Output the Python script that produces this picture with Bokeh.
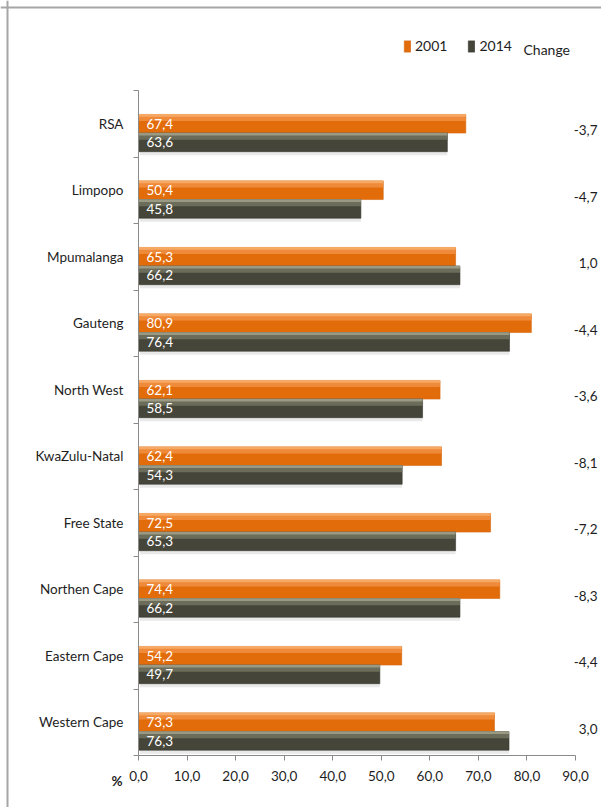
from bokeh.plotting import figure
from bokeh.models import (ColumnDataSource, FixedTicker, Range1d, Legend, LegendItem, Label, Span)
from bokeh.core.properties import value
from bokeh.embed import file_html
from bokeh.resources import INLINE

regions = ["RSA", "Limpopo", "Mpumalanga", "Gauteng", "North West", "KwaZulu-Natal",
           "Free State", "Northen Cape", "Eastern Cape", "Western Cape"]
v2001 = [67.4, 50.4, 65.3, 80.9, 62.1, 62.4, 72.5, 74.4, 54.2, 73.3]
v2014 = [63.6, 45.8, 66.2, 76.4, 58.5, 54.3, 65.3, 66.2, 49.7, 76.3]
change = [-3.7, -4.7, 1.0, -4.4, -3.6, -8.1, -7.2, -8.3, -4.4, 3.0]
x_ticks = [0, 10, 20, 30, 40, 50, 60, 70, 80, 90]

FONT = "Lato"
FS = "13.5px"
TXT = "#1e1e1e"

# layout constants (page pixels); canvas sits at page offset (0, 0)
OX, OY = 0, 0
W, H = 601, 807
X0PX, XPU = 138, 4.856   # page pixel of x=0, pixels per unit
Y0PX, YPU = 755, 66.5    # page pixel of y=0, pixels per unit

def dx(px):
    return (px - X0PX) / XPU

def dy(py):
    return (Y0PX - py) / YPU

x_start = dx(OX)
x_end = dx(OX + W)
y_end = dy(OY)
y_start = dy(OY + H)

def fmt(v):
    return f"{v:.1f}".replace(".", ",")

n = len(regions)
pos = [n - 1 - i for i in range(n)]
src = ColumnDataSource(dict(
    name=regions,
    pos=pos,
    v01=v2001,
    v14=v2014,
    ch=[fmt(c) for c in change],
    l01=[fmt(v) for v in v2001],
    l14=[fmt(v) for v in v2014],
    y01=[q + 0.50 for q in pos],
    y01a=[q + 0.59 for q in pos],
    y01b=[q + 0.625 for q in pos],
    y14=[q + 0.22 for q in pos],
    y14a=[q + 0.31 for q in pos],
    y14b=[q + 0.345 for q in pos],
    ysh=[q + 0.055 for q in pos],
    ych=[q + 0.40 for q in pos],
    x0=[0] * n,
))

p = figure(width=W, height=H, output_backend="svg", toolbar_location=None,
           x_range=Range1d(x_start, x_end), y_range=Range1d(y_start, y_end),
           min_border_left=0, min_border_right=0, min_border_top=0, min_border_bottom=0)
p.outline_line_color = None
p.grid.visible = False
p.background_fill_color = "white"
p.border_fill_color = "white"

# chart-area border (left and top edges visible in the crop)
p.add_layout(Span(location=dx(7), dimension="height", line_color="#a6a6a6", line_width=2))
p.add_layout(Span(location=dy(7), dimension="width", line_color="#a6a6a6", line_width=2))

# shadows
p.hbar(y="ysh", left=0.3, right="v14", height=0.06, source=src,
       fill_color="#9a9a9a", fill_alpha=0.22, line_color=None)
# 2001 bars
r01 = p.hbar(y="y01", left="x0", right="v01", height=0.28, source=src,
             fill_color="#E36C0A", line_color="#D0640F", line_width=0.6)
p.hbar(y="y01a", left="x0", right="v01", height=0.10, source=src,
       fill_color="#EF8A3A", line_color=None)
p.hbar(y="y01b", left="x0", right="v01", height=0.04, source=src,
       fill_color="#F6A865", line_color=None)
# 2014 bars
r14 = p.hbar(y="y14", left="x0", right="v14", height=0.28, source=src,
             fill_color="#45453A", line_color="#38382F", line_width=0.6)
p.hbar(y="y14a", left="x0", right="v14", height=0.10, source=src,
       fill_color="#6C6C5A", line_color=None)
p.hbar(y="y14b", left="x0", right="v14", height=0.04, source=src,
       fill_color="#9A9A84", line_color=None)

# value labels inside bars
p.text(x=dx(146), y="y01", text="l01", source=src, text_color="white",
       text_font=value(FONT), text_font_size=FS, text_baseline="middle", text_align="left")
p.text(x=dx(146), y="y14", text="l14", source=src, text_color="white",
       text_font=value(FONT), text_font_size=FS, text_baseline="middle", text_align="left")

# change column
p.text(x=dx(597), y="ych", text="ch", source=src, text_color=TXT,
       text_font=value(FONT), text_font_size=FS, text_baseline="middle", text_align="right")

# axes
xa = p.xaxis[0]
xa.fixed_location = 0
xa.bounds = (0, 90)
xa.ticker = FixedTicker(ticks=x_ticks, minor_ticks=[])
xa.major_label_overrides = {t: fmt(t) for t in x_ticks}
xa.axis_line_color = "#8a8a8a"
xa.major_tick_line_color = "#8a8a8a"
xa.major_tick_out = 5
xa.major_tick_in = 0
xa.minor_tick_line_color = None
xa.major_label_standoff = 10
xa.major_label_text_font = FONT
xa.major_label_text_font_size = FS
xa.major_label_text_color = TXT

ya = p.yaxis[0]
ya.fixed_location = 0
ya.bounds = (0, 10)
ya.ticker = FixedTicker(ticks=[q + 0.5 for q in pos], minor_ticks=list(range(0, n + 1)))
ya.major_label_overrides = {q + 0.5: nm for q, nm in zip(pos, regions)}
ya.axis_line_color = "#8a8a8a"
ya.major_tick_line_color = None
ya.major_tick_out = 0
ya.major_tick_in = 0
ya.minor_tick_line_color = "#8a8a8a"
ya.minor_tick_out = 5
ya.minor_tick_in = 0
ya.major_label_standoff = 10
ya.major_label_text_font = FONT
ya.major_label_text_font_size = FS
ya.major_label_text_color = TXT

# % label
p.add_layout(Label(x=dx(111), y=dy(780), text="%", text_font=FONT, text_font_size=FS,
                   text_font_style="bold", text_color=TXT, text_baseline="middle",
                   text_align="left"))

# legend
legend = Legend(items=[LegendItem(label="2001", renderers=[r01]),
                       LegendItem(label="2014", renderers=[r14])],
                orientation="horizontal", location=(403 - OX, OY + H - 54),
                glyph_width=8, glyph_height=14, label_height=14, label_standoff=4,
                spacing=20, padding=0, margin=0,
                border_line_alpha=0, background_fill_alpha=0,
                label_text_font=FONT, label_text_font_size="14px", label_text_color=TXT)
p.add_layout(legend)
p.add_layout(Label(x=dx(523), y=dy(49), text="Change", text_font=FONT,
                   text_font_size="14px", text_color=TXT, text_baseline="middle",
                   text_align="left"))

open("out.html", "w").write(file_html(p, INLINE))
